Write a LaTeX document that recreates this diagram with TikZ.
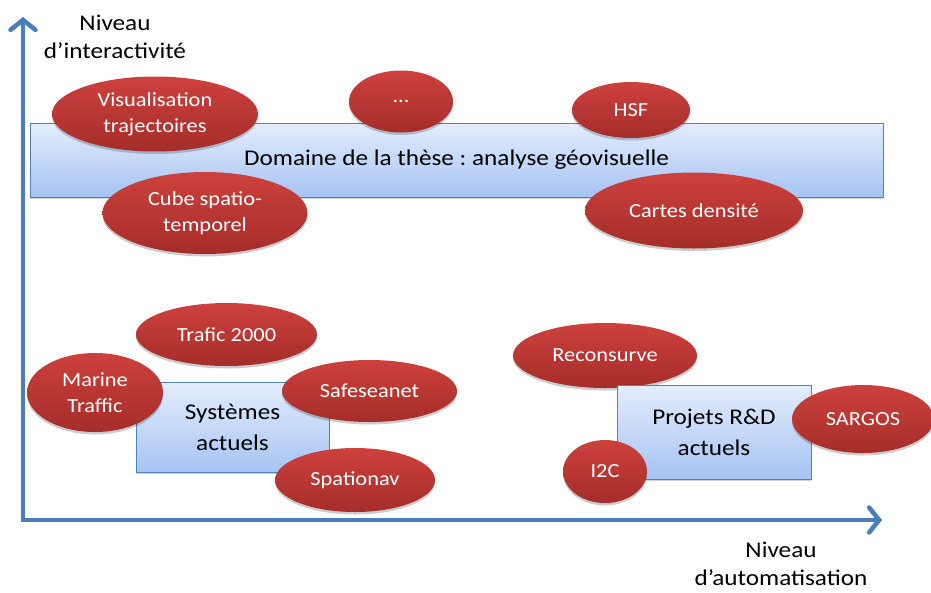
\documentclass[tikz,border=0pt]{standalone}
\usepackage{fontspec}
\setmainfont{Carlito}[FakeStretch=1.12]
\frenchspacing
\usetikzlibrary{shapes.geometric,arrows.meta,shadows}
\definecolor{axisblue}{HTML}{4A7EBB}
\definecolor{redtop}{HTML}{CD413D}
\definecolor{redbot}{HTML}{A52D2A}
\definecolor{bluetop}{HTML}{E3EDFC}
\definecolor{bluebot}{HTML}{A6C3F3}
\definecolor{rectedge}{HTML}{4F81BD}
\begin{document}
\begin{tikzpicture}[x=1pt,y=-1pt,
  axisline/.style={line width=4.5pt, draw=axisblue, -{Straight Barb[length=10pt,width=25pt,line cap=round]}},
  axislabel/.style={align=center, font=\fontsize{22.5}{28}\selectfont},
  redell/.style={ellipse, inner sep=0pt, top color=redtop, bottom color=redbot,
    text=white, align=center, font=\fontsize{20}{26}\selectfont,
    drop shadow={shadow xshift=0pt, shadow yshift=-2.5pt, opacity=0.2, fill=black}},
  bluebox/.style={rectangle, inner sep=0pt, draw=rectedge, line width=0.8pt,
    top color=bluetop, bottom color=bluebot, align=center,
    font=\fontsize{22.5}{31}\selectfont,
    drop shadow={shadow xshift=0pt, shadow yshift=-1.5pt, opacity=0.18, fill=black}}
]
\useasboundingbox (0,0) rectangle (931,592);

% axes
\coordinate (vbot) at (23,522);
\coordinate (ytip) at (23,17);
\coordinate (hstart) at (21,520);
\coordinate (xtip) at (882,520);
\draw[axisline] (vbot) -- (ytip);
\draw[axisline] (hstart) -- (xtip);

\node[axislabel] (ylab) at (115,37) {Niveau\\d’interactivité};
\node[axislabel] (xlab) at (781,564) {Niveau\\d’automatisation};

% domain box
\node[bluebox, minimum width=853, minimum height=74, font=\fontsize{22.5}{28}\selectfont] (dom) at (456.5,160) {Domaine de la thèse : analyse géovisuelle};

\node[redell, minimum width=206, minimum height=75] (vis) at (155,114) {Visualisation\\trajectoires};
\node[redell, minimum width=104, minimum height=62] (dots) at (401,101.5) {...};
\node[redell, minimum width=118, minimum height=56] (hsf) at (631,110) {HSF};
\node[redell, minimum width=205, minimum height=82] (cube) at (205,213) {Cube spatio-\\temporel};
\node[redell, minimum width=218, minimum height=76] (cartes) at (694,210.5) {Cartes densité};

% current systems
\node[redell, minimum width=181, minimum height=63] (trafic) at (226.5,334.5) {Trafic 2000};
\node[bluebox, minimum width=193, minimum height=90] (sys) at (232.5,427.5) {Systèmes\\actuels};
\node[redell, minimum width=136, minimum height=79] (marine) at (95,392.5) {Marine\\Traffic};
\node[redell, minimum width=175, minimum height=62] (safe) at (369.5,391) {Safeseanet};
\node[redell, minimum width=160, minimum height=64] (spatio) at (355,480) {Spationav};

% R&D projects
\node[redell, minimum width=184, minimum height=65] (recon) at (605,355.5) {Reconsurve};
\node[bluebox, minimum width=194, minimum height=94] (rd) at (714,432) {Projets R\&D\\actuels};
\node[redell, minimum width=84, minimum height=63] (i2c) at (605,471.5) {I2C};
\node[redell, minimum width=142, minimum height=68] (sargos) at (863,419) {SARGOS};
\end{tikzpicture}
\end{document}
